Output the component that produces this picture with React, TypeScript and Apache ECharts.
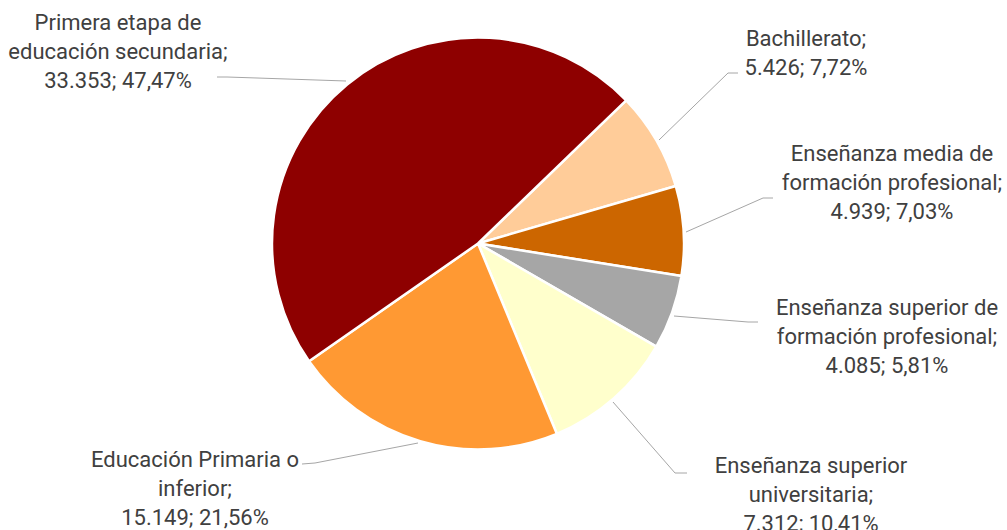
import React, { useEffect, useRef } from "react";
import * as echarts from "echarts";

const categories = [
  "Bachillerato",
  "Enseñanza media de formación profesional",
  "Enseñanza superior de formación profesional",
  "Enseñanza superior universitaria",
  "Educación Primaria o inferior",
  "Primera etapa de educación secundaria",
];
const labelNames = [
  "Bachillerato;",
  "Enseñanza media de\nformación profesional;",
  "Enseñanza superior de\nformación profesional;",
  "Enseñanza superior\nuniversitaria;",
  "Educación Primaria o\ninferior;",
  "Primera etapa de\neducación secundaria;",
];
const values = [5426, 4939, 4085, 7312, 15149, 33353];
const colors = ["#FFCC99", "#CC6600", "#A6A6A6", "#FFFFCC", "#FF9933", "#8E0000"];

// label placement (layout only)
const labelPos = [
  { x: 806, y: 53, line: [[659, 140], [728, 73], [738, 73]] },
  { x: 892, y: 182, line: [[686, 232], [763, 198], [773, 198]] },
  { x: 887, y: 336, line: [[674, 316], [748, 322], [758, 322]] },
  { x: 811, y: 494, line: [[613, 402], [675, 473], [687, 473]] },
  { x: 195, y: 488, line: [[418, 443], [315, 463], [302, 464]] },
  { x: 118, y: 51, line: [[346, 81], [227, 77], [217, 77]] },
];

const fmtThousands = (v: number) =>
  String(v).replace(/\B(?=(\d{3})+(?!\d))/g, ".");

export default function App() {
  const ref = useRef<HTMLDivElement>(null);
  useEffect(() => {
    if (!ref.current) return;
    const chart = echarts.init(ref.current, undefined, { renderer: "svg" });
    const total = values.reduce((a, b) => a + b, 0);
    chart.setOption({
      animation: false,
      backgroundColor: "#ffffff",
      series: [
        {
          type: "pie",
          center: [478, 243.5],
          radius: 206,
          startAngle: 44,
          clockwise: true,
          avoidLabelOverlap: false,
          itemStyle: { borderColor: "#ffffff", borderWidth: 2.5 },
          label: {
            show: true,
            position: "outside",
            fontFamily: "Roboto, sans-serif",
            fontSize: 22,
            lineHeight: 29,
            color: "#404040",
            align: "center",
            formatter: (p: any) =>
              labelNames[p.dataIndex] +
              "\n" +
              fmtThousands(p.value) +
              "; " +
              ((p.value / total) * 100).toFixed(2).replace(".", ",") +
              "%",
          },
          labelLine: {
            show: true,
            lineStyle: { color: "#A6A6A6", width: 1 },
          },
          labelLayout: (params: any) => {
            const lp = labelPos[params.dataIndex];
            return {
              x: lp.x,
              y: lp.y,
              align: "center",
              verticalAlign: "middle",
              labelLinePoints: lp.line,
            };
          },
          data: categories.map((c, i) => ({
            name: c,
            value: values[i],
            itemStyle: { color: colors[i] },
          })),
        },
      ],
    });
    return () => chart.dispose();
  }, []);
  return (
    <div
      ref={ref}
      style={{ position: "fixed", left: 0, top: 0, width: 1007, height: 530 }}
    />
  );
}
